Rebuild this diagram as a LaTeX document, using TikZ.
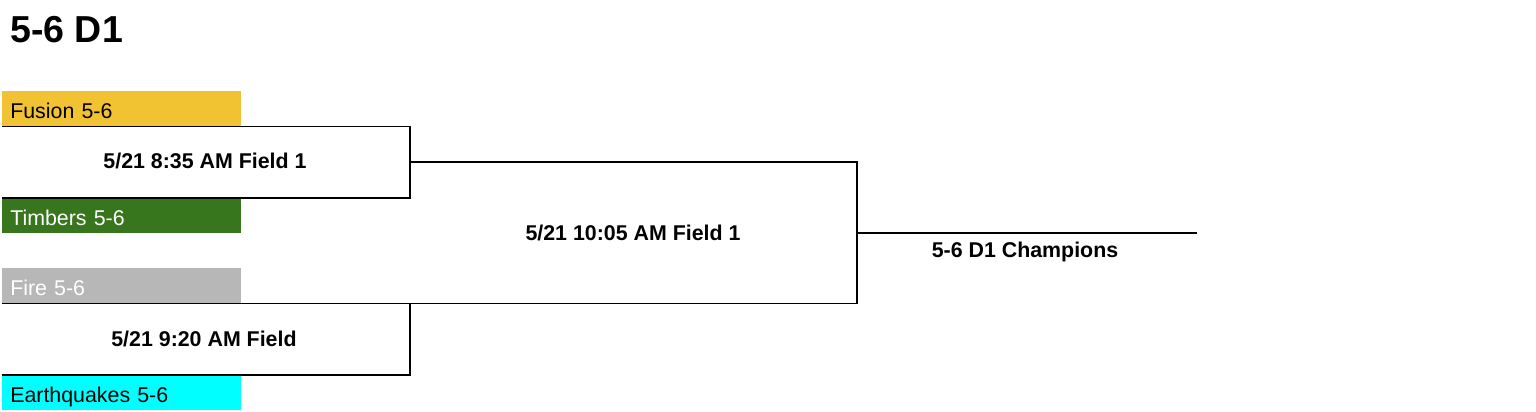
\documentclass[tikz,border=0pt]{standalone}
\usepackage{fontspec}
\setmainfont{Liberation Sans}
\usetikzlibrary{positioning}

\definecolor{fusion}{HTML}{F1C232}
\definecolor{timbers}{HTML}{38761D}
\definecolor{fire}{HTML}{B7B7B7}
\definecolor{quakes}{HTML}{00FFFF}

\begin{document}
\begin{tikzpicture}[
    x=0.25mm, y=-0.25mm,
    team/.style={anchor=north west, minimum height=8.75mm, text width=55.75mm,
        text height=13.6pt, text depth=0pt,
        inner xsep=2mm, inner ysep=0pt, align=left, font=\fontsize{15.2}{18}\selectfont},
    game/.style={font=\fontsize{15.2}{18}\selectfont\bfseries},
    bracket/.style={line width=0.45mm, black}
]
    \useasboundingbox (0,0) rectangle (1536,412);

    % Title
    \node[anchor=base west, inner sep=0pt, font=\fontsize{26.7}{32}\selectfont\bfseries] (title) at (10,43) {5-6 D1};

    % Teams
    \foreach \id/\y/\fg/\txt in {fusion/91/black/Fusion 5-6, timbers/198/white/Timbers 5-6,
                                 fire/268/white/Fire 5-6, quakes/375/black/Earthquakes 5-6} {
        \node[team, fill=\id, text=\fg] (\id) at (2,\y) {\txt};
    }

    % --- ROUND 1 ---
    \coordinate (g1) at (410,162);
    \coordinate (g2) at (410,339);
    \draw[bracket] (fusion.south west) -| (g1) |- (timbers.north west);
    \draw[bracket] (fire.south west) -| (g2) |- (quakes.north west);
    \node[game] (game1) at (205,161) {5/21 8:35 AM Field 1};
    \node[game] (game2) at (204,339) {5/21 9:20 AM Field};

    % --- FINAL ---
    \coordinate (g3) at (857,233);
    \coordinate (champ) at (1197,233);
    \draw[bracket] (g1) -| (g3) |- (fire.south east);
    \draw[bracket] (g3) -- (champ);
    \node[game] (game3) at (633,233) {5/21 10:05 AM Field 1};
    \node[game] (winner) at (1025,252) {5-6 D1 Champions};
\end{tikzpicture}
\end{document}
